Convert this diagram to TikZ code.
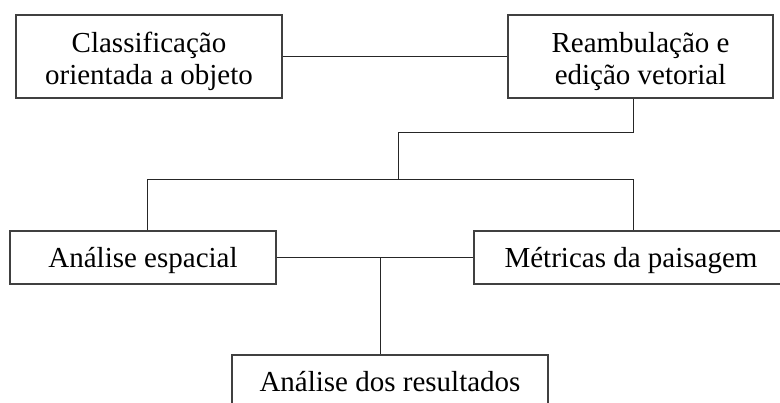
\documentclass[tikz,border=0pt]{standalone}
\usepackage{fontspec}
\setmainfont{Liberation Serif}
\begin{document}
\begin{tikzpicture}[x=1pt,y=-1pt,
  box/.style={draw=black!75, line width=1.3pt, rectangle, inner sep=0pt,
    font=\fontsize{29}{32}\selectfont, align=center, text height=21pt, text depth=0pt},
  conn/.style={draw=black!85, line width=0.9pt}]
\useasboundingbox (0,0) rectangle (780,403);
\clip (0,0) rectangle (780,403);
\node[box, minimum width=266pt, minimum height=83pt, text height=57pt] (b1) at (149,56.5) {Classificação\\orientada a objeto};
\node[box, minimum width=265pt, minimum height=83pt, text height=57pt] (b2) at (640.5,56.5) {Reambulação e\\edição vetorial};
\node[box, minimum width=266pt, minimum height=53pt] (b3) at (143,257.5) {Análise espacial};
\node[box, minimum width=314pt, minimum height=53pt] (b4) at (631,257.5) {Métricas da paisagem};
\node[box, minimum width=316pt, minimum height=53pt] (b5) at (390,381.5) {Análise dos resultados};
\coordinate (j1) at (398,132);
\coordinate (j2) at (398,179);
\coordinate (j3) at (380,257.5);
\coordinate (bl) at (147,179);
\coordinate (br) at (633,179);
\draw[conn] (b1.east) -- (b2.west);
\draw[conn] (br |- b2.south) -- (br |- j1) -- (j1) -- (j2);
\draw[conn] (bl |- b3.north) -- (bl) -- (br) -- (br |- b4.north);
\draw[conn] (b3.east) -- (b4.west);
\draw[conn] (j3) -- (j3 |- b5.north);
\end{tikzpicture}
\end{document}
